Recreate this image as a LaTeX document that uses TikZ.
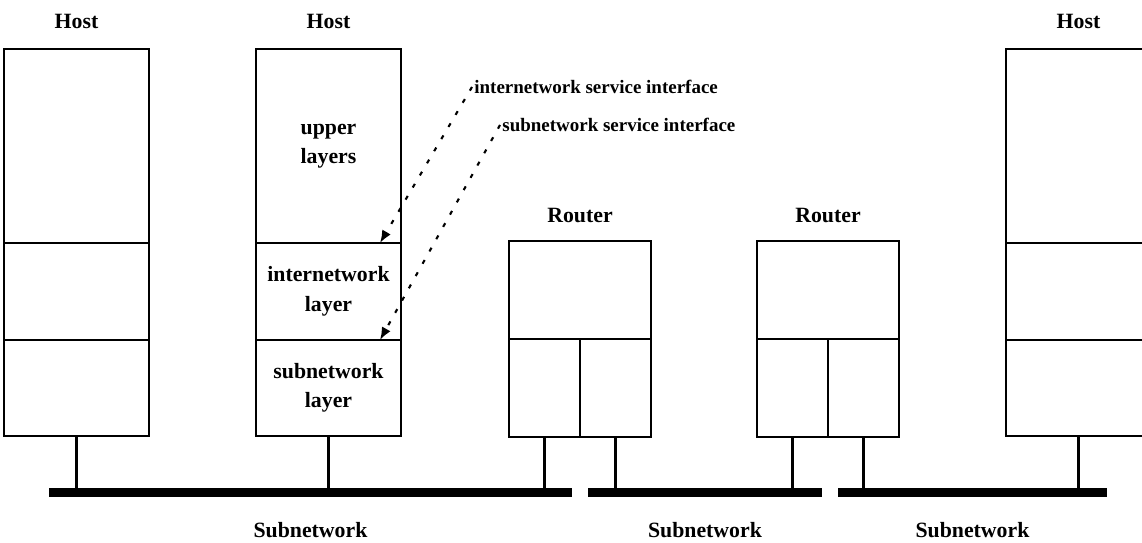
\documentclass[tikz,border=0pt]{standalone}
\usepackage{fontspec}
\setmainfont{Liberation Serif}
\usetikzlibrary{positioning,arrows.meta,calc}

\begin{document}
\begin{tikzpicture}[
    layer/.style={rectangle, draw, line width=1.7pt, outer sep=0pt, inner sep=0pt,
                  minimum width=3.625cm, align=center,
                  font=\fontsize{15.5}{21}\selectfont\bfseries},
    half/.style={rectangle, draw, line width=1.7pt, outer sep=0pt,
                 minimum width=1.775cm, minimum height=2.45cm},
    bus/.style={rectangle, fill=black, inner sep=0pt, outer sep=0pt,
                minimum height=0.225cm},
    lbl/.style={inner sep=0pt, font=\fontsize{15.5}{21}\selectfont\bfseries},
    iface/.style={inner sep=1.5pt, font=\fontsize{13.5}{15}\selectfont\bfseries},
    stem/.style={line width=1.7pt},
    ptr/.style={dash pattern=on 3pt off 7pt, line width=1.5pt,
                -{Latex[length=9pt,width=7pt]}}
  ]
  \useasboundingbox (0,0) rectangle (28.55,-13.575);

  % hosts
  \node[layer, minimum height=4.85cm, anchor=north west] (h1up) at (0.1,-1.225) {};
  \node[layer, minimum height=2.425cm, below=0cm of h1up] (h1mid) {};
  \node[layer, minimum height=2.4cm, below=0cm of h1mid] (h1low) {};

  \node[layer, minimum height=4.85cm, anchor=north west] (h2up) at (6.4,-1.225)
        {upper\\layers};
  \node[layer, minimum height=2.425cm, below=0cm of h2up] (h2mid)
        {internetwork\\layer};
  \node[layer, minimum height=2.4cm, below=0cm of h2mid] (h2low)
        {subnetwork\\layer};

  \node[layer, minimum height=4.85cm, anchor=north west] (h3up) at (25.15,-1.225) {};
  \node[layer, minimum height=2.425cm, below=0cm of h3up] (h3mid) {};
  \node[layer, minimum height=2.4cm, below=0cm of h3mid] (h3low) {};

  % routers
  \node[layer, minimum width=3.55cm, minimum height=2.45cm, anchor=north west]
        (r1up) at (12.725,-6.025) {};
  \node[half, anchor=north west] (r1a) at (r1up.south west) {};
  \node[half, anchor=north east] (r1b) at (r1up.south east) {};

  \node[layer, minimum width=3.55cm, minimum height=2.45cm, anchor=north west]
        (r2up) at (18.925,-6.025) {};
  \node[half, anchor=north west] (r2a) at (r2up.south west) {};
  \node[half, anchor=north east] (r2b) at (r2up.south east) {};

  % subnetworks
  \node[bus, minimum width=13.075cm] (bus1) at (7.7625,-12.3125) {};
  \node[bus, minimum width=5.85cm] (bus2) at (17.625,-12.3125) {};
  \node[bus, minimum width=6.725cm] (bus3) at (24.3125,-12.3125) {};

  \draw[stem] (h1low.south) -- (h1low.south |- bus1.north);
  \draw[stem] (h2low.south) -- (h2low.south |- bus1.north);
  \draw[stem] (r1a.south) -- (r1a.south |- bus1.north);
  \draw[stem] (r1b.south) -- (r1b.south |- bus2.north);
  \draw[stem] (r2a.south) -- (r2a.south |- bus2.north);
  \draw[stem] (r2b.south) -- (r2b.south |- bus3.north);
  \draw[stem] (h3low.south) -- (h3low.south |- bus3.north);

  % labels
  \node[lbl, above=0.49cm of h1up] (host1) {Host};
  \node[lbl, above=0.49cm of h2up] (host2) {Host};
  \node[lbl, above=0.49cm of h3up] (host3) {Host};
  \node[lbl, above=0.45cm of r1up] (rtr1) {Router};
  \node[lbl, above=0.45cm of r2up] (rtr2) {Router};
  \node[lbl, below=0.62cm of bus1] (sub1) {Subnetwork};
  \node[lbl, below=0.62cm of bus2] (sub2) {Subnetwork};
  \node[lbl, below=0.62cm of bus3] (sub3) {Subnetwork};

  % service interfaces
  \node[iface, anchor=west] (ifin) at (11.8,-2.175) {internetwork service interface};
  \node[iface, anchor=west] (ifsub) at (12.5,-3.125) {subnetwork service interface};
  \coordinate (tipin) at ($(h2up.south east)+(-0.525,0)$);
  \coordinate (tipsub) at ($(h2mid.south east)+(-0.525,0)$);
  \draw[ptr] (ifin.west) -- (tipin);
  \draw[ptr] (ifsub.west) -- (tipsub);
\end{tikzpicture}
\end{document}
